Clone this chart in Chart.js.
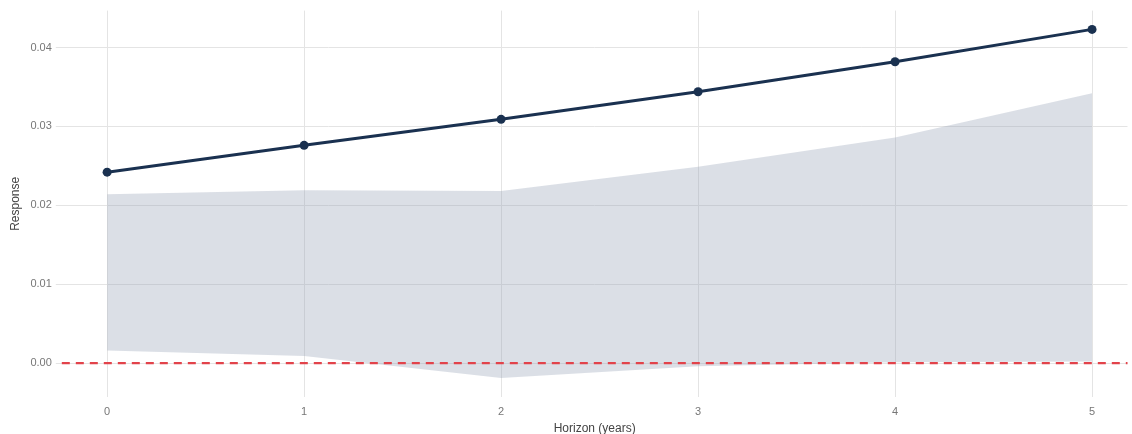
<!DOCTYPE html>
<html>
<head>
<meta charset="utf-8">
<script src="https://cdn.jsdelivr.net/npm/chart.js@4.4.1/dist/chart.umd.min.js"></script>
<style>
  html, body { margin: 0; padding: 0; background: #fff; overflow: hidden; }
  #wrap { position: relative; width: 1132px; height: 436px; }
</style>
</head>
<body>
<div id="wrap"><canvas id="c"></canvas></div>
<script>
// Impulse response over horizon, with confidence band
const horizons = [0, 1, 2, 3, 4, 5];
const response = [0.0242, 0.0276, 0.0309, 0.0344, 0.0382, 0.0423];
const bandUpper = [0.0214, 0.0219, 0.0218, 0.0249, 0.0286, 0.0342];
const bandLower = [0.0016, 0.0009, -0.0019, -0.0004, 0.0001, 0.0002];
const yTicks = [0.00, 0.01, 0.02, 0.03, 0.04];
const zeroLevel = 0;

const pts = arr => horizons.map((h, i) => ({ x: h, y: arr[i] }));

// Dashed red reference line at zero, spanning the plot area
const zeroLinePlugin = {
  id: 'zeroLine',
  afterDatasetsDraw(chart) {
    const { ctx, chartArea, scales } = chart;
    const y = scales.y.getPixelForValue(zeroLevel);
    ctx.save();
    ctx.strokeStyle = '#e2434b';
    ctx.lineWidth = 2.2;
    ctx.setLineDash([8, 6]);
    ctx.beginPath();
    ctx.moveTo(chartArea.left, y);
    ctx.lineTo(chartArea.right, y);
    ctx.stroke();
    ctx.restore();
  }
};

new Chart(document.getElementById('c'), {
  type: 'line',
  data: {
    datasets: [
      {
        label: 'Response',
        data: pts(response),
        borderColor: '#1a3150',
        backgroundColor: '#1a3150',
        borderWidth: 3,
        pointRadius: 4.5,
        pointBackgroundColor: '#1a3150',
        pointBorderWidth: 0,
        fill: false,
        order: 0
      },
      {
        label: 'Lower',
        data: pts(bandLower),
        borderWidth: 0,
        pointRadius: 0,
        fill: false,
        order: 2
      },
      {
        label: 'Upper',
        data: pts(bandUpper),
        borderWidth: 0,
        pointRadius: 0,
        backgroundColor: 'rgba(150,162,182,0.34)',
        fill: '-1',
        order: 1
      }
    ]
  },
  options: {
    responsive: true,
    maintainAspectRatio: false,
    animation: false,
    layout: { padding: { top: 10, right: 0, left: 8, bottom: 0 } },
    plugins: {
      legend: { display: false },
      tooltip: { enabled: false },
      filler: { drawTime: 'beforeDatasetsDraw' }
    },
    scales: {
      x: {
        type: 'linear',
        min: -0.23,
        max: 5.18,
        border: { display: false },
        afterFit: axis => { axis.height = 39; },
        grid: { color: '#e4e4e4', lineWidth: 1, drawTicks: false },
        ticks: {
          stepSize: 1,
          includeBounds: false,
          color: '#777',
          font: { family: 'Arial, "Liberation Sans", sans-serif', size: 11 },
          padding: 8,
          callback: v => Number.isInteger(v) ? String(v) : ''
        },
        title: {
          display: true,
          text: 'Horizon (years)',
          color: '#444',
          font: { family: 'Arial, "Liberation Sans", sans-serif', size: 12 },
          padding: { top: 0, bottom: 0 }
        }
      },
      y: {
        type: 'linear',
        min: -0.0043,
        max: 0.04468,
        border: { display: false },
        afterBuildTicks: axis => { axis.ticks = yTicks.map(v => ({ value: v })); },
        grid: { color: '#e4e4e4', lineWidth: 1, drawTicks: true, tickLength: 6, tickColor: '#e4e4e4' },
        ticks: {
          color: '#777',
          font: { family: 'Arial, "Liberation Sans", sans-serif', size: 11 },
          padding: 4,
          callback: v => v.toFixed(2)
        },
        title: {
          display: true,
          text: 'Response',
          color: '#444',
          font: { family: 'Arial, "Liberation Sans", sans-serif', size: 12 },
          padding: { top: 0, bottom: 4 }
        }
      }
    }
  },
  plugins: [zeroLinePlugin]
});
</script>
</body>
</html>
